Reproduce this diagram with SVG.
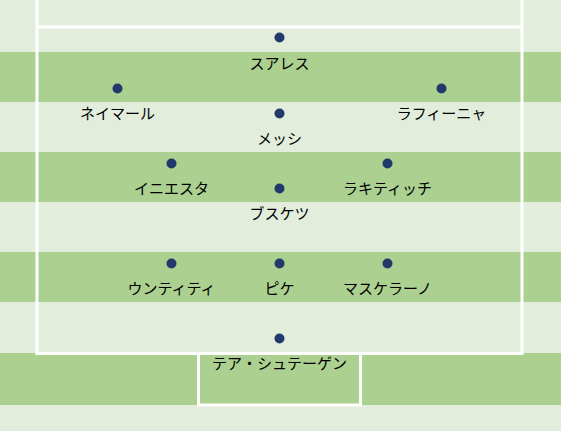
<svg xmlns="http://www.w3.org/2000/svg" width="561" height="431" viewBox="0 0 561 431">
<style>
.light{fill:#e2eedb}
.dark{fill:#abd08f}
.line{fill:none;stroke:#ffffff;stroke-width:3}
.dot{fill:#223a6b}
.lbl{font-family:"Noto Sans CJK JP","Noto Sans",sans-serif;font-size:15px;fill:#000000;text-anchor:middle}
</style>
<g id="field">
<rect x="0" y="0" width="561" height="431" class="light"/>
<rect x="0" y="52" width="561" height="50" class="dark"/>
<rect x="0" y="152" width="561" height="50" class="dark"/>
<rect x="0" y="252" width="561" height="50" class="dark"/>
<rect x="0" y="353" width="561" height="52" class="dark"/>
</g>
<g id="lines">
<line x1="37" y1="-5" x2="37" y2="353.5" class="line"/>
<line x1="522" y1="-5" x2="522" y2="353.5" class="line"/>
<line x1="35.5" y1="353.5" x2="523.5" y2="353.5" class="line"/>
<line x1="37" y1="27" x2="522" y2="27" class="line"/>
<polyline points="198.5,353.5 198.5,405 360.5,405 360.5,353.5" class="line"/>
</g>
<g id="suarez"><circle cx="279.5" cy="37.5" r="5" class="dot"/><text x="279.5" y="68.5" class="lbl">スアレス</text></g>
<g id="neymar"><circle cx="117.5" cy="88.5" r="5" class="dot"/><text x="117.5" y="118.5" class="lbl">ネイマール</text></g>
<g id="raphinha"><circle cx="441.5" cy="88.5" r="5" class="dot"/><text x="441.5" y="118.5" class="lbl">ラフィーニャ</text></g>
<g id="messi"><circle cx="279.5" cy="113.5" r="5" class="dot"/><text x="279.5" y="143.5" class="lbl">メッシ</text></g>
<g id="iniesta"><circle cx="171.5" cy="163.5" r="5" class="dot"/><text x="171.5" y="193.5" class="lbl">イニエスタ</text></g>
<g id="rakitic"><circle cx="387.5" cy="163.5" r="5" class="dot"/><text x="387.5" y="193.5" class="lbl">ラキティッチ</text></g>
<g id="busquets"><circle cx="279.5" cy="188.5" r="5" class="dot"/><text x="279.5" y="218.5" class="lbl">ブスケツ</text></g>
<g id="umtiti"><circle cx="171.5" cy="263.5" r="5" class="dot"/><text x="171.5" y="293.5" class="lbl">ウンティティ</text></g>
<g id="pique"><circle cx="279.5" cy="263.5" r="5" class="dot"/><text x="279.5" y="293.5" class="lbl">ピケ</text></g>
<g id="mascherano"><circle cx="387.5" cy="263.5" r="5" class="dot"/><text x="387.5" y="293.5" class="lbl">マスケラーノ</text></g>
<g id="terstegen"><circle cx="279.5" cy="338.5" r="5" class="dot"/><text x="279.5" y="368.5" class="lbl">テア・シュテーゲン</text></g>
</svg>
